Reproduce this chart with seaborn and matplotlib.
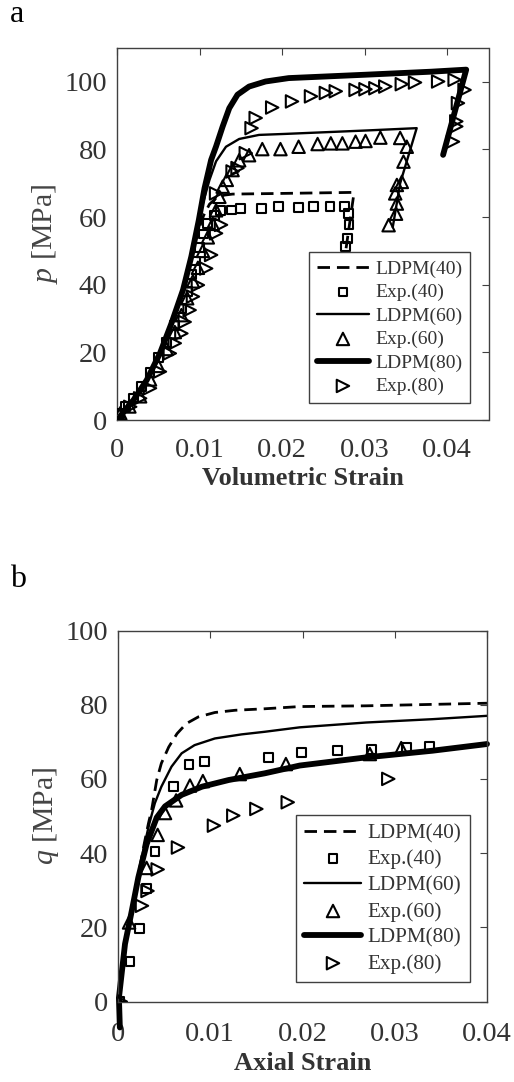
import numpy as np
import pandas as pd
import matplotlib
matplotlib.use("Agg")
import matplotlib.pyplot as plt
import seaborn as sns

# ---------------- Panel a : p vs volumetric strain ----------------
a_ldpm40_x = [0, 0.002, 0.0036, 0.0052, 0.0066, 0.008, 0.009, 0.0097, 0.0105, 0.0112, 0.012, 0.013, 0.014, 0.020, 0.0285, 0.0287, 0.0277]
a_ldpm40_y = [0, 5.9, 11.8, 19.7, 28.6, 38.5, 48.0, 55.0, 60.5, 63.8, 65.6, 66.5, 66.8, 67.0, 67.3, 67.0, 50]

a_ldpm60_x = [0, 0.002, 0.0036, 0.0052, 0.0066, 0.008, 0.009, 0.0097, 0.0104, 0.0112, 0.012, 0.0132, 0.0148, 0.0172, 0.0204, 0.0301, 0.0363, 0.0343, 0.0334]
a_ldpm60_y = [0, 5.9, 11.8, 19.7, 28.6, 38.5, 48.0, 56.0, 64.0, 71.0, 76.5, 80.8, 83.1, 84.3, 84.6, 85.6, 86.3, 70, 57]

a_ldpm80_x = [0, 0.002, 0.0036, 0.0052, 0.0066, 0.008, 0.009, 0.0099, 0.0106, 0.0114, 0.012, 0.0128, 0.0136, 0.0146, 0.016, 0.018, 0.0208, 0.0301, 0.0381, 0.0423, 0.0395]
a_ldpm80_y = [0, 5.9, 11.8, 19.7, 28.6, 38.5, 48.3, 59.0, 68.5, 76.9, 80.9, 86.8, 92.2, 96.2, 98.6, 100.1, 101.1, 102.1, 103.0, 103.6, 78.4]

a_exp40_x = [0.0003, 0.001, 0.002, 0.003, 0.004, 0.005, 0.006, 0.007, 0.0078, 0.0085, 0.009, 0.0095, 0.0100, 0.0105, 0.0110, 0.0118, 0.0125,
             0.0139, 0.0150, 0.0175, 0.0196, 0.0220, 0.0238, 0.0258, 0.0276, 0.0280, 0.0281, 0.0279, 0.0277]
a_exp40_y = [2, 4, 6.5, 10, 14, 18.5, 23, 28, 33, 38, 43, 47, 51, 55, 58, 60.5, 62,
             62.1, 62.6, 62.6, 63.1, 62.8, 63.1, 63.1, 63.1, 61.1, 57.7, 53.7, 51.2]

a_exp60_x = [0.0004, 0.0015, 0.0028, 0.004, 0.005, 0.006, 0.007, 0.0078, 0.0085, 0.0092, 0.0098, 0.0104, 0.0110, 0.0116, 0.0120, 0.0124, 0.0128, 0.0133,
             0.0140, 0.0148, 0.0160, 0.0176, 0.0198, 0.0220, 0.0243, 0.0259, 0.0273, 0.0289, 0.0301, 0.0319, 0.0343,
             0.0351, 0.0347, 0.0345, 0.0339, 0.0337, 0.0339, 0.0338, 0.0329]
a_exp60_y = [2, 4, 7, 12, 16, 21, 26, 31, 36, 41, 45, 50, 54, 58, 62, 66, 69, 71,
             73.9, 76.8, 78.3, 80.1, 80.1, 80.8, 81.6, 81.8, 81.8, 82.3, 82.5, 83.5, 83.4,
             80.8, 76.4, 70.4, 69.5, 67.0, 64.0, 61.0, 57.6]

a_exp80_x = [0.0002, 0.0016, 0.0028, 0.0040, 0.0052, 0.0064, 0.0070, 0.0078, 0.0082, 0.0088, 0.0092, 0.0098, 0.0108, 0.0114, 0.0120, 0.0126,
             0.0120, 0.0140, 0.0146, 0.0156, 0.0163, 0.0168, 0.0188, 0.0212, 0.0235, 0.0253, 0.0265, 0.0289, 0.0301, 0.0313, 0.0325,
             0.0345, 0.0361, 0.0389, 0.0409, 0.0421, 0.0413, 0.0411, 0.0411, 0.0407]
a_exp80_y = [2, 3.9, 6.4, 9.4, 14.3, 19.7, 22.7, 25.6, 29, 32.5, 36.5, 39.9, 44.8, 48.8, 55.2, 57.7,
             67, 73.5, 74.5, 78.9, 86.3, 89.3, 92.4, 94.2, 95.7, 96.7, 97.2, 97.6, 97.8, 98.1, 98.6,
             99.3, 99.8, 100.1, 100.6, 97.6, 93.7, 88.3, 86.8, 82.3]

a_xticks = [0, 0.01, 0.02, 0.03, 0.04]
a_xticklabels = ["0", "0.01", "0.02", "0.03", "0.04"]
a_yticks = [0, 20, 40, 60, 80, 100]

# ---------------- Panel b : q vs axial strain ----------------
b_ldpm40_x = [0, 0.00076, 0.0015, 0.0022, 0.0028, 0.0033, 0.00365, 0.0042, 0.0047, 0.0055, 0.0064, 0.0074, 0.0087, 0.0105, 0.0127, 0.0159, 0.0197, 0.0269, 0.040]
b_ldpm40_y = [0, 15, 25, 34, 42, 48, 51.7, 59.7, 64.2, 68.6, 72.2, 74.9, 76.7, 77.9, 78.5, 78.9, 79.5, 79.7, 80.4]

b_ldpm60_x = [0, 0.00076, 0.0015, 0.0022, 0.0028, 0.0034, 0.0040, 0.0047, 0.0058, 0.0069, 0.0083, 0.0105, 0.0134, 0.0159, 0.0197, 0.0269, 0.0341, 0.040]
b_ldpm60_y = [0, 15, 25, 34, 41.5, 48, 53.5, 57.9, 63.3, 66.9, 69.1, 70.9, 72.0, 72.7, 73.9, 75.2, 76.1, 77.0]

b_ldpm80_x = [0.0002, 0.0001, 0.00076, 0.0015, 0.0022, 0.0031, 0.0042, 0.0051, 0.0069, 0.0091, 0.012, 0.0159, 0.0197, 0.0269, 0.0341, 0.040]
b_ldpm80_y = [-7, 1, 15.5, 24.5, 33.4, 42.4, 49.6, 52.6, 55.7, 57.9, 59.7, 61.5, 63.6, 65.8, 67.6, 69.4]

b_exp40_x = [0.0002, 0.0013, 0.0023, 0.0031, 0.0040, 0.0060, 0.0077, 0.0094, 0.0163, 0.0199, 0.0238, 0.0275, 0.0313, 0.0338]
b_exp40_y = [0, 10.7, 19.7, 30.4, 40.4, 58.0, 63.9, 64.7, 65.7, 67.1, 67.6, 68.0, 68.5, 68.7]

b_exp60_x = [0.0001, 0.0012, 0.0031, 0.0043, 0.0051, 0.0063, 0.0078, 0.0092, 0.0132, 0.0182, 0.0273, 0.0307]
b_exp60_y = [0, 21.3, 36, 44.9, 50.8, 54.2, 58.2, 59.4, 61.3, 64.0, 66.7, 68.3]

b_exp80_x = [0.0003, 0.0026, 0.0032, 0.0043, 0.0065, 0.0104, 0.0125, 0.0150, 0.0184, 0.0293]
b_exp80_y = [0, 25.8, 29.8, 35.6, 41.5, 47.4, 50.1, 51.9, 53.7, 60.0]

b_xticks = [0, 0.01, 0.02, 0.03, 0.04]
b_xticklabels = ["0", "0.01", "0.02", "0.03", "0.04"]
b_yticks = [0, 20, 40, 60, 80, 100]

labels = ["LDPM(40)", "Exp.(40)", "LDPM(60)", "Exp.(60)", "LDPM(80)", "Exp.(80)"]

# ---------------- styling ----------------
sns.set_style("white")
plt.rcParams["font.family"] = ["Liberation Serif", "DejaVu Serif"]
plt.rcParams["mathtext.fontset"] = "custom"
plt.rcParams["mathtext.it"] = "Liberation Serif:italic"
plt.rcParams["mathtext.rm"] = "Liberation Serif"

TXT = "#333333"
fig = plt.figure(figsize=(5.14, 10.82), dpi=100)
W, H = 514, 1082
ax1 = fig.add_axes([117 / W, (H - 420) / H, 371.5 / W, 372 / H])
ax2 = fig.add_axes([118 / W, (H - 1001.5) / H, 369 / W, 371 / H])

DASH = (0, (4.5, 2.5))


def draw(ax, l40, e40, l60, e60, l80, e80, clip80=True):
    sns.lineplot(x=l40[0], y=l40[1], ax=ax, sort=False, estimator=None, color="k",
                 lw=2.0, linestyle=DASH, label=labels[0])
    sns.scatterplot(x=e40[0], y=e40[1], ax=ax, marker="s", s=40, facecolors="none",
                    edgecolor="k", linewidth=1.5, label=labels[1], zorder=3)
    sns.lineplot(x=l60[0], y=l60[1], ax=ax, sort=False, estimator=None, color="k",
                 lw=1.7, label=labels[2])
    sns.scatterplot(x=e60[0], y=e60[1], ax=ax, marker="^", s=80, facecolors="none",
                    edgecolor="k", linewidth=1.5, label=labels[3], zorder=3)
    sns.lineplot(x=l80[0], y=l80[1], ax=ax, sort=False, estimator=None, color="k",
                 lw=4.2, label=labels[4], clip_on=clip80)
    sns.scatterplot(x=e80[0], y=e80[1], ax=ax, marker=">", s=80, facecolors="none",
                    edgecolor="k", linewidth=1.5, label=labels[5], zorder=3)


draw(ax1, (a_ldpm40_x, a_ldpm40_y), (a_exp40_x, a_exp40_y), (a_ldpm60_x, a_ldpm60_y),
     (a_exp60_x, a_exp60_y), (a_ldpm80_x, a_ldpm80_y), (a_exp80_x, a_exp80_y))
draw(ax2, (b_ldpm40_x, b_ldpm40_y), (b_exp40_x, b_exp40_y), (b_ldpm60_x, b_ldpm60_y),
     (b_exp60_x, b_exp60_y), (b_ldpm80_x, b_ldpm80_y), (b_exp80_x, b_exp80_y), clip80=False)

for ax, xl, yl, xt, xtl, yt, xlabel, ylabel, anchor, lfs, xpad in [
    (ax1, (0, 0.045), (0, 110), a_xticks, a_xticklabels, a_yticks, "Volumetric Strain", r"$p$ [MPa]", (0.95, 0.046), 14, 13),
    (ax2, (0, 0.04), (0, 100), b_xticks, b_xticklabels, b_yticks, "Axial Strain", r"$q$ [MPa]", (0.954, 0.052), 15.2, 15),
]:
    ax.set_xlim(*xl)
    ax.set_ylim(*yl)
    ax.set_xticks(xt)
    ax.set_xticklabels(xtl)
    ax.set_yticks(yt)
    ax.tick_params(direction="in", top=True, right=True, length=5, width=0.8,
                   colors="#404040", labelcolor=TXT, labelsize=20.5, pad=7)
    ax.tick_params(axis="x", pad=xpad)
    for sp in ax.spines.values():
        sp.set_visible(True)
        sp.set_color("#404040")
        sp.set_linewidth(1.0)
    ax.set_xlabel(xlabel, fontsize=19, fontweight="bold", color=TXT, labelpad=3)
    ax.set_ylabel(ylabel, fontsize=21.5, color="#444444", labelpad=3)
    h, l = ax.get_legend_handles_labels()
    order = [l.index(t) for t in labels]
    leg = ax.legend([h[i] for i in order], [l[i] for i in order], loc="lower right",
                    bbox_to_anchor=anchor, fontsize=lfs, frameon=True, fancybox=False,
                    framealpha=1, edgecolor="#404040", handlelength=2.7,
                    handletextpad=0.3, labelspacing=0.3, borderpad=0.4, borderaxespad=0)
    leg.get_frame().set_linewidth(1.0)
    for t in leg.get_texts():
        t.set_color(TXT)

fig.text(10 / W, (H - 22) / H, "a", fontsize=23, color="k", va="baseline")
fig.text(10 / W, (H - 587) / H, "b", fontsize=23, color="k", va="baseline")

fig.savefig("out.png", dpi=100, facecolor="white")
